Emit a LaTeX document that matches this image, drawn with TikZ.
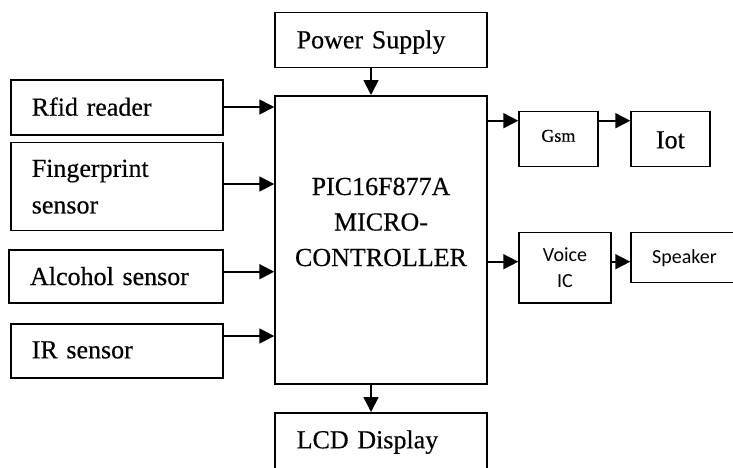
\documentclass[tikz,border=0pt]{standalone}
\usepackage{fontspec}
\setmainfont{Liberation Serif}[FakeBold=0.4]
\newfontfamily\carlitofont{Carlito}
\usetikzlibrary{arrows.meta}
\tikzset{
  blk/.style={draw, line width=1.5pt, inner ysep=0pt},
  big/.style={font=\fontsize{26}{36.6}\selectfont},
  lft/.style={align=left, inner xsep=#1},
  arr/.style={line width=1.8pt, -{Triangle[length=15pt,width=15pt]}}
}
\begin{document}
\begin{tikzpicture}[x=1pt,y=-1pt]
\useasboundingbox (0,0) rectangle (733,467);
% left column
\node[blk,big,lft=20.7pt,text width=170.3pt,minimum height=55pt,text height=17pt,text depth=0.6pt] (rfid) at (116.9,107.5) {Rfid reader};
\node[blk,big,lft=20.7pt,text width=170.3pt,minimum height=88pt] (finger) at (116.9,186.7) {Fingerprint\\sensor};
\node[blk,big,lft=21pt,text width=171.7pt,minimum height=52.7pt,text height=18pt,text depth=0.8pt] (alcohol) at (115.9,276.4) {Alcohol sensor};
\node[blk,big,lft=20.7pt,text width=170.3pt,minimum height=54pt,text height=16pt,text depth=1.4pt] (ir) at (116.9,351) {IR sensor};
% centre column
\node[blk,big,lft=21.7pt,text width=168.6pt,minimum height=55.4pt,text height=17.4pt,text depth=0.8pt] (power) at (381,40) {Power Supply};
\node[blk,font=\fontsize{26}{35.5}\selectfont,minimum width=212pt,minimum height=288.3pt,inner xsep=0pt] (main) at (381,239.9)
  {\begin{tabular}{c}PIC16F877A\\MICRO-\\CONTROLLER\\[33pt]\end{tabular}};
\node[blk,big,lft=21.7pt,text width=168.6pt,minimum height=56.3pt,text height=16pt,text depth=1.2pt] (lcd) at (381,440.9) {LCD Display};
% right column
\node[blk,font=\fontsize{18}{22}\selectfont,minimum width=78.7pt,minimum height=55pt,text height=12pt,text depth=7pt] (gsm) at (558.4,139.2) {Gsm};
\node[blk,big,minimum width=78.7pt,minimum height=55pt,text height=18.2pt,text depth=0pt] (iot) at (670.4,139.2) {Iot};
\node[blk,font=\carlitofont\fontsize{20}{25.6}\selectfont,align=center,minimum width=92pt,minimum height=70.7pt] (voice) at (565,267.7) {Voice\\IC};
\node[blk,font=\carlitofont\fontsize{20}{24}\selectfont,minimum width=107pt,minimum height=50.4pt,text height=13.5pt,text depth=1.4pt] (speaker) at (684.5,257.5) {Speaker};
% connectors
\draw[arr] ([xshift=-10pt]power.south) -- ([xshift=-10pt]main.north);
\draw[arr] ([xshift=-10pt]main.south) -- ([xshift=-10pt]lcd.north);
\draw[arr] ([yshift=0.5pt]rfid.east) -- ([yshift=0.5pt]rfid.east -| main.west);
\coordinate (f1) at ([yshift=2.7pt]finger.east);
\draw[arr] (f1) -- (f1 -| main.west);
\coordinate (a1) at ([yshift=4.7pt]alcohol.east);
\draw[arr] (a1) -- (a1 -| main.west);
\coordinate (i1) at ([yshift=15pt]ir.east);
\draw[arr] (i1) -- (i1 -| main.west);
\coordinate (g1) at ([yshift=18.5pt]gsm.west);
\draw[arr] (g1 -| main.east) -- (g1);
\draw[arr] (g1 -| gsm.east) -- (g1 -| iot.west);
\coordinate (v1) at ([yshift=6pt]voice.west);
\draw[arr] (v1 -| main.east) -- (v1);
\draw[arr] (v1 -| voice.east) -- (v1 -| speaker.west);
\end{tikzpicture}
\end{document}
